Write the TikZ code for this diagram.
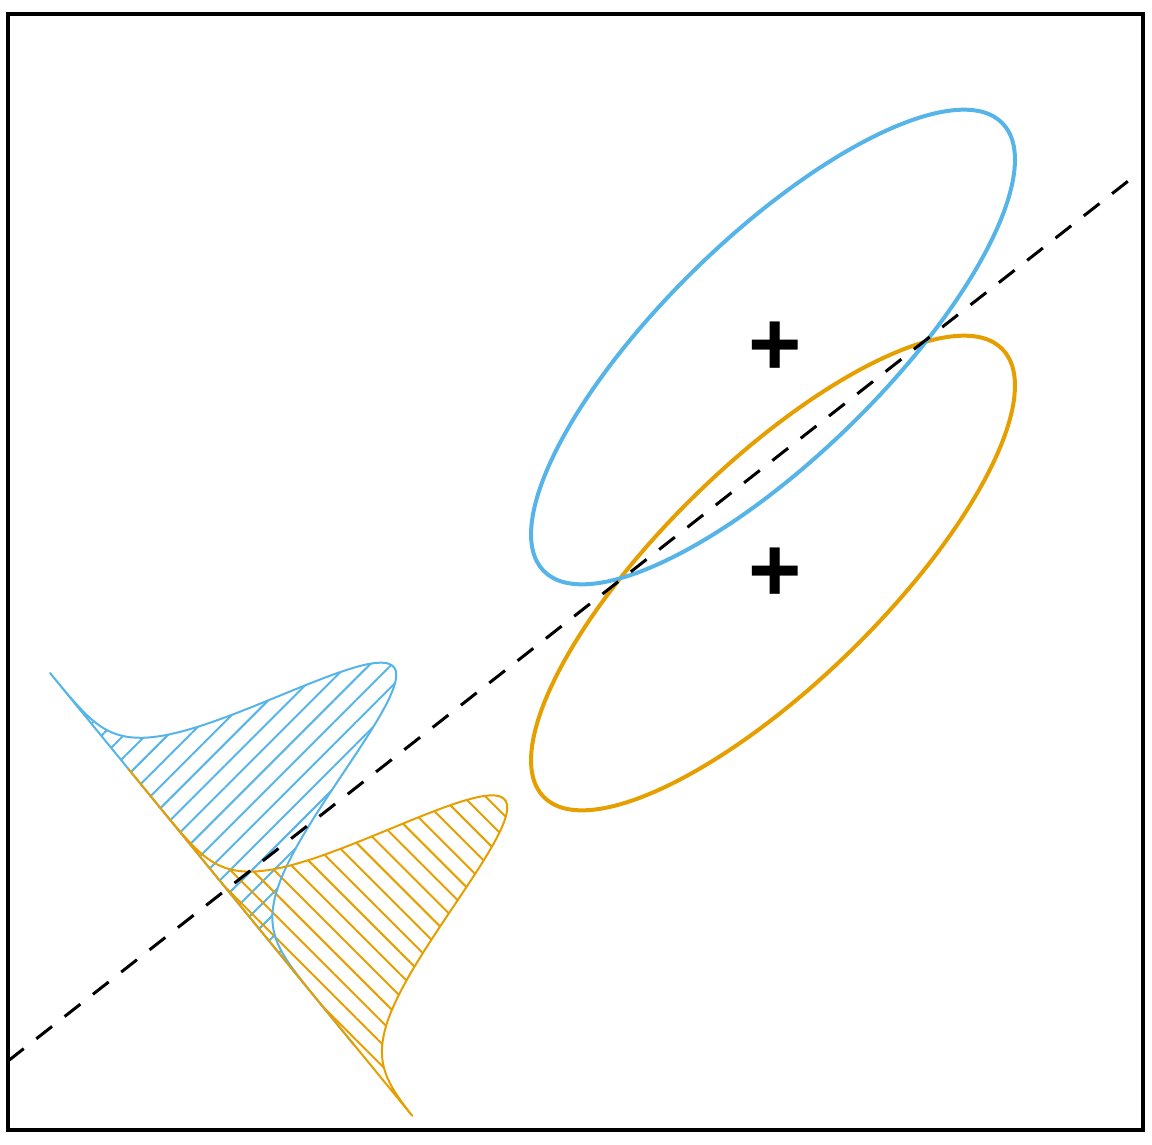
\documentclass[tikz,border=0pt]{standalone}
\usepackage{fontspec}
\setsansfont{Liberation Sans}
\usetikzlibrary{patterns.meta}
\definecolor{bcolor}{HTML}{56B4E9}
\definecolor{ocolor}{HTML}{E69F00}

\begin{document}
\begin{tikzpicture}[
    x=0.2mm, y=-0.2mm,
    frame/.style={draw=black, line width=0.8mm},
    contour/.style={line width=0.8mm},
    density/.style={line width=0.4mm, line join=round},
    boundary/.style={line width=0.6mm, dash pattern=on 4mm off 3.2mm},
    centre/.style={font=\sffamily\bfseries\fontsize{52}{52}\selectfont, inner sep=0pt},
    declare function={bump(\u,\m,\h)=\h*exp(-0.5*((\u-\m)/50)^2);},
  ]
    \useasboundingbox (0,0) rectangle (1152,1144);
    \draw[frame] (8,14) rectangle (1143,1130);

    \coordinate (m1) at (773,347);
    \coordinate (m2) at (773,573);
    \coordinate (b1) at (8,1061);
    \coordinate (b2) at (1132,178);

    % projected densities along the axis
    \fill[pattern={Lines[angle=45, distance=3.1mm, line width=0.4mm]}, pattern color=bcolor]
      plot[domain=0:480, samples=120] ({50+0.6328*\x+0.7743*bump(\x,213,270)}, {673+0.7743*\x-0.6328*bump(\x,213,270)}) -- cycle;
    \fill[pattern={Lines[angle=-45, distance=3.1mm, line width=0.4mm]}, pattern color=ocolor]
      plot[domain=124:572, samples=120] ({50+0.6328*\x+0.7743*bump(\x,386,272)}, {673+0.7743*\x-0.6328*bump(\x,386,272)}) -- cycle;
    \draw[density, bcolor]
      plot[domain=0:480, samples=120] ({50+0.6328*\x+0.7743*bump(\x,213,270)}, {673+0.7743*\x-0.6328*bump(\x,213,270)}) -- cycle;
    \draw[density, ocolor]
      plot[domain=124:572, samples=120] ({50+0.6328*\x+0.7743*bump(\x,386,272)}, {673+0.7743*\x-0.6328*bump(\x,386,272)}) -- cycle;

    % class contours
    \draw[contour, ocolor] (m2) ellipse [x radius=64.1mm, y radius=22mm, rotate=44.3];
    \draw[contour, bcolor] (m1) ellipse [x radius=64.1mm, y radius=22mm, rotate=44.3];
    \node[centre] (p1) at (775,349) {+};
    \node[centre] (p2) at (775,575) {+};

    \draw[boundary] (b1) -- (b2);
\end{tikzpicture}
\end{document}
